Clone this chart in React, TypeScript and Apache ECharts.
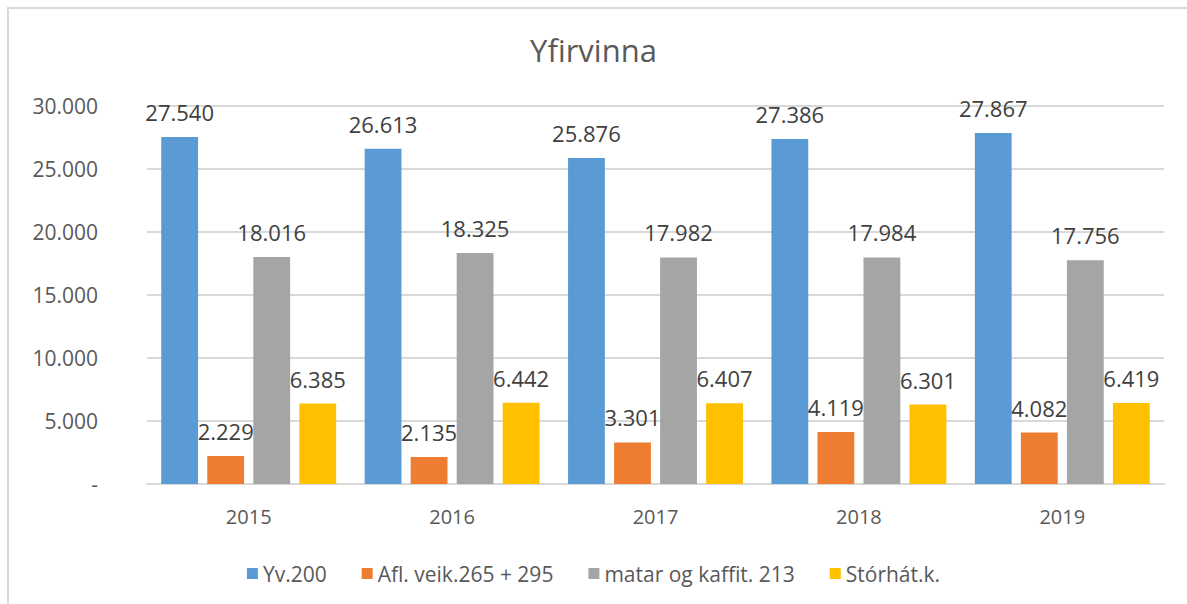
import React, { useEffect, useRef } from "react";
import * as echarts from "echarts";

const categories = ["2015", "2016", "2017", "2018", "2019"];
const seriesNames = ["Yv.200", "Afl. veik.265 + 295", "matar og kaffit. 213", "Stórhát.k."];
const yv200 = [27540, 26613, 25876, 27386, 27867];
const aflVeik = [2229, 2135, 3301, 4119, 4082];
const matar = [18016, 18325, 17982, 17984, 17756];
const storhat = [6385, 6442, 6407, 6301, 6419];
const colors = ["#5B9BD5", "#ED7D31", "#A5A5A5", "#FFC000"];

const FONT = "'Open Sans', 'Noto Sans', sans-serif";

function fmt(v: number): string {
  if (v === 0) return "-";
  return String(Math.round(v)).replace(/\B(?=(\d{3})+(?!\d))/g, ".");
}

export default function App() {
  const ref = useRef<HTMLDivElement>(null);
  useEffect(() => {
    if (!ref.current) return;
    const chart = echarts.init(ref.current, null, { renderer: "svg" });
    const data = [yv200, aflVeik, matar, storhat];
    chart.setOption({
      animation: false,
      backgroundColor: "#ffffff",
      title: {
        text: "Yfirvinna",
        left: "center",
        top: 29,
        textStyle: { fontFamily: FONT, fontSize: 31, fontWeight: "normal", color: "#595959" },
      },
      graphic: [
        {
          type: "rect",
          shape: { x: 8, y: 8, width: 1300, height: 700 },
          style: { fill: "none", stroke: "#D9D9D9", lineWidth: 2 },
          silent: true,
        },
      ],
      legend: {
        data: seriesNames,
        left: "center",
        top: 558,
        itemWidth: 11,
        itemHeight: 11,
        itemGap: 35,
        icon: "rect",
        textStyle: { fontFamily: FONT, fontSize: 21, color: "#595959" },
      },
      grid: { left: 147, right: 23, top: 106, bottom: 604 - 484 },
      xAxis: {
        type: "category",
        data: categories,
        axisLine: { lineStyle: { color: "#D9D9D9", width: 2 } },
        axisTick: { show: false },
        axisLabel: { fontFamily: FONT, fontSize: 20, color: "#595959", margin: 22 },
      },
      yAxis: {
        type: "value",
        min: 0,
        max: 30000,
        interval: 5000,
        axisLine: { show: false },
        axisTick: { show: false },
        splitLine: { lineStyle: { color: "#D9D9D9", width: 2 } },
        axisLabel: {
          fontFamily: FONT,
          fontSize: 21,
          color: "#595959",
          margin: 49,
          formatter: (v: number) => fmt(v),
        },
      },
      series: seriesNames.map((name, i) => ({
        name,
        type: "bar",
        data: data[i],
        itemStyle: { color: colors[i] },
        barGap: "25%",
        barCategoryGap: "14%",
        label: {
          show: true,
          position: "top",
          distance: 14,
          fontFamily: FONT,
          fontSize: 22,
          color: "#404040",
          formatter: (p: any) => fmt(p.value),
        },
      })),
    });
    return () => chart.dispose();
  }, []);
  return (
    <div
      ref={ref}
      style={{ position: "fixed", left: 0, top: 0, width: 1187, height: 604 }}
    />
  );
}
